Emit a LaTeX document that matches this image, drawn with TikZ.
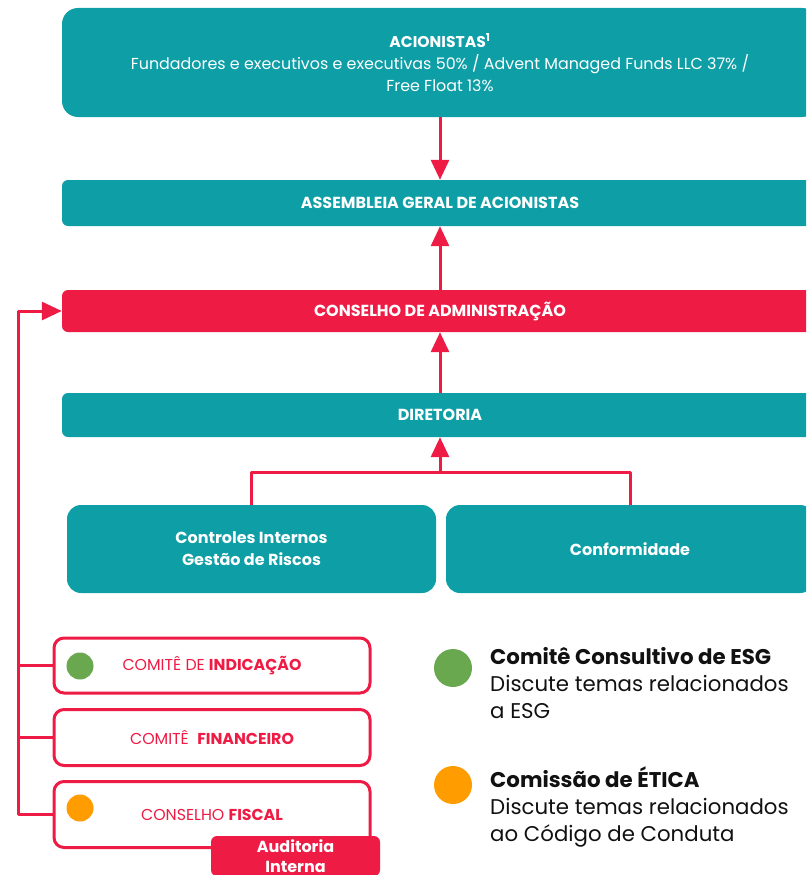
\documentclass[tikz,border=0pt]{standalone}
\usepackage{fontspec}
\setmainfont{Poppins}
\usetikzlibrary{arrows.meta}
\definecolor{teal1}{HTML}{0E9EA6}
\definecolor{red1}{HTML}{EE1B45}
\definecolor{grn}{HTML}{6AA84F}
\definecolor{org}{HTML}{FF9C00}
\definecolor{ink}{HTML}{111111}
\begin{document}
\begin{tikzpicture}[x=1pt,y=-1pt,
  tealbox/.style={fill=teal1, text=white, rounded corners=6pt, inner sep=0pt,
    font=\bfseries\fontsize{16}{22}\selectfont, align=center},
  redbox/.style={fill=red1, text=white, rounded corners=6pt, inner sep=0pt,
    font=\bfseries\fontsize{16}{22}\selectfont, align=center},
  combox/.style={draw=red1, line width=3pt, fill=white, rounded corners=10pt,
    minimum width=316pt, inner sep=0pt, text=red1, font=\fontsize{15.8}{18}\selectfont},
  dot/.style={circle, inner sep=0pt, minimum size=27pt},
  bigdot/.style={circle, inner sep=0pt, minimum size=38pt},
  legtext/.style={anchor=west, align=left, inner sep=0pt, text=ink,
    font=\fontsize{21.3}{27}\selectfont},
  conn/.style={draw=red1, line width=3pt, line join=round},
  arr/.style={conn, -{Triangle[length=20pt,width=18pt]}}
]
\useasboundingbox (0,0) rectangle (806,875);
\clip (0,0) rectangle (806,875);

\node[tealbox, rounded corners=16pt, minimum width=756pt, minimum height=109pt,
  font=\bfseries\fontsize{15.6}{22}\selectfont] (acion) at (440,62.5)
  {ACIONISTAS\textsuperscript{1}\\
   {\mdseries\fontsize{15.9}{22}\selectfont Fundadores e executivos e executivas 50\% / Advent Managed Funds LLC 37\% /}\\
   {\mdseries\fontsize{15.9}{22}\selectfont Free Float 13\%}};

\node[tealbox, minimum width=756pt, minimum height=46pt] (assem) at (440,203) {ASSEMBLEIA GERAL DE ACIONISTAS};
\node[redbox, minimum width=756pt, minimum height=42pt] (cons) at (440,311) {CONSELHO DE ADMINISTRAÇÃO};
\node[tealbox, minimum width=756pt, minimum height=44pt] (dir) at (440,415) {DIRETORIA};

\node[tealbox, rounded corners=14pt, minimum width=369pt, minimum height=88pt] (ctrl) at (251.5,549)
  {Controles Internos\\Gestão de Riscos};
\node[tealbox, rounded corners=14pt, minimum width=368pt, minimum height=88pt] (conf) at (630,549)
  {Conformidade};

\node[combox, minimum height=55pt] (com1) at (212,665.5) {COMITÊ DE \textbf{INDICAÇÃO}};
\node[combox, minimum height=56pt] (com2) at (212,737.5) {COMITÊ\ \ \textbf{FINANCEIRO}};
\node[combox, minimum height=66pt] (com3) at (212,814.5) {CONSELHO \textbf{FISCAL}};

\node[redbox, minimum width=169pt, minimum height=40pt, font=\bfseries\fontsize{16}{20}\selectfont] (aud) at (295.5,856)
  {Auditoria\\Interna};

\node[dot, fill=grn] (d1) at (80,666) {};
\node[dot, fill=org] (d3) at (80,808) {};

\node[bigdot, fill=grn] (lg1) at (453,668) {};
\node[legtext] (lt1) at (490,683) {\textbf{Comitê Consultivo de ESG}\\Discute temas relacionados\\a ESG};
\node[bigdot, fill=org] (lg2) at (453,785) {};
\node[legtext] (lt2) at (490,807) {\textbf{Comissão de ÉTICA}\\Discute temas relacionados\\ao Código de Conduta};

\draw[arr] (acion.south) -- (assem.north);
\draw[arr] (cons.north) -- (assem.south);
\draw[arr] (dir.north) -- (cons.south);
\coordinate (bj) at (440,472);
\draw[conn] (ctrl.north) |- (bj) -| (conf.north);
\draw[arr] (bj) -- (dir.south);
\coordinate (lt) at (18,311);
\draw[arr] (com3.west) -| (lt) -- (cons.west);
\draw[conn] (com1.west) -- (com1.west -| lt);
\draw[conn] (com2.west) -- (com2.west -| lt);
\end{tikzpicture}
\end{document}
